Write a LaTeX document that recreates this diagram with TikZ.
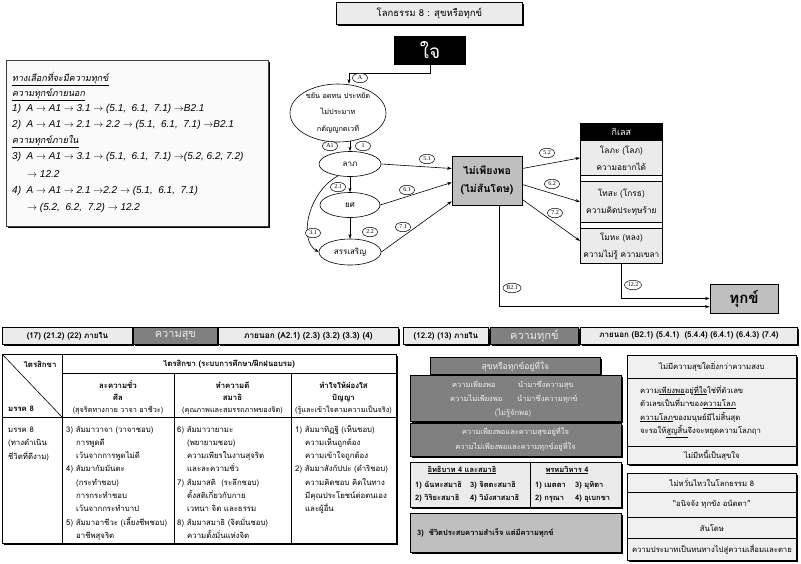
\documentclass[tikz,border=0pt]{standalone}
\usepackage{fontspec}
\setmainfont{Loma}[Script=Thai]
\newfontfamily\thaisl{Loma}[Script=Thai,FakeSlant=0.18]
\newfontfamily\latsans{Liberation Sans}
\newfontfamily\lserif{Liberation Serif}
\usetikzlibrary{shapes.geometric,arrows.meta,calc,shadows}
\newcommand\fsz[2]{\fontsize{#1}{#2}\selectfont}
\newcommand\rarr{$\rightarrow$}
\newcommand\lit[1]{{\latsans\itshape\fsz{10}{11}#1}}
\begin{document}
\begin{tikzpicture}[x=1pt,y=-1pt,
  arr/.style={-{Stealth[length=4.5pt,width=3.2pt]}, line width=0.6pt},
  lbl/.style={ellipse, draw, line width=0.5pt, fill=white, inner sep=0.4pt, minimum width=15pt, minimum height=9.5pt, font=\lserif\fsz{6}{6}},
  oval/.style={ellipse, draw, line width=0.6pt, inner sep=0pt, fill=white},
  bx/.style={draw, line width=0.8pt, inner sep=0pt, anchor=north west},
  shd/.style={drop shadow={shadow xshift=1.2pt, shadow yshift=-1.2pt, opacity=1, fill=black}},
  tl/.style={inner sep=0pt, anchor=west, text height=5.5pt, text depth=1.5pt},
  tc/.style={inner sep=0pt, anchor=center, text height=5.5pt, text depth=1.5pt},
  tbody/.style={font=\fsz{7.8}{9}},
  tsmall/.style={font=\fsz{7.3}{9}},
  tbold/.style={font=\bfseries\fsz{7.8}{9}},
  rcol/.style={font=\fsz{7.7}{9}},
]
\useasboundingbox (0,0) rectangle (801,563);

% ---------- top diagram ----------
\node[bx, shd, fill=black!8, minimum width=186pt, minimum height=22pt, font=\fsz{9.5}{11}] (title) at (336,2) {โลกธรรม 8 : สุขหรือทุกข์};
\node[fill=black, text=white, minimum width=72pt, minimum height=29pt, inner sep=0pt, font=\fsz{19}{20}] (jai) at (430,50.5) {ใจ};

\node[oval, minimum width=96pt, minimum height=58pt] (virtue) at (338,113) {};
\node[align=center, inner sep=0pt, font=\fsz{7.3}{16.5}] (virtuet) at (virtue.center) {ขยัน อดทน ประหยัด\\ไม่ประมาท\\กตัญญูกตเวที};
\coordinate (c1) at (349,73);
\draw[arr] (jai.south) |- (c1) -- (virtue.north -| c1);
\node[lbl] (lA) at (360,78) {A};

\node[oval, minimum width=62pt, minimum height=25pt] (lap) at (350,164) {};
\node[inner sep=0pt, font=\fsz{8}{9}] (lapt) at (lap.center) {ลาภ};
\node[oval, minimum width=60pt, minimum height=25pt] (yot) at (350,205) {};
\node[inner sep=0pt, font=\fsz{8}{9}] (yott) at (yot.center) {ยศ};
\node[oval, minimum width=62pt, minimum height=26pt] (sun) at (350,252) {};
\node[inner sep=0pt, font=\fsz{8}{9}] (sunt) at (sun.center) {สรรเสริญ};

\draw[arr] ($(virtue.south -| lap.north)+(0,-1)$) -- (lap.north);
\draw[arr] (lap.south) -- (yot.north);
\draw[arr] (yot.south) -- (sun.north);
\draw[arr] (lap.225) .. controls (308,192) and (298,240) .. (sun.west);
\node[lbl] (lA1) at (330,146) {A1};
\node[lbl] (l1) at (363,146) {1};
\node[lbl] (l21) at (338,187) {2.1};
\node[lbl] (l31) at (313,233) {3.1};
\node[lbl] (l22) at (370,232) {2.2};

\node[draw, line width=0.7pt, fill=black!25, minimum width=70pt, minimum height=49pt, inner sep=0pt, align=center, font=\bfseries\fsz{10.5}{18}] (nopo) at (487,180.5) {ไม่เพียงพอ\\(ไม่สันโดษ)};
\draw[arr] (lap.east) -- ($(nopo.west)+(0,-12)$);
\draw[arr] (yot.east) -- ($(nopo.west)+(0,2)$);
\draw[arr] (sun.east) -- ($(nopo.south west)+(0,-4)$);
\node[lbl] (l51) at (427,159) {5.1};
\node[lbl] (l61) at (407,190) {6.1};
\node[lbl] (l71) at (403,227) {7.1};

\draw[line width=0.5pt] (580,123) rectangle (662,263);
\node[bx, fill=black, minimum width=82pt, minimum height=17pt, text=white, font=\fsz{9}{10}] (kil) at (580,123) {กิเลส};
\node[bx, fill=black!8, minimum width=82pt, minimum height=35pt, align=center, font=\fsz{8.3}{17}] (lop) at (580,140) {โลภะ (โลภ)\\ความอยากได้};
\node[bx, fill=black!8, minimum width=82pt, minimum height=41pt, align=center, font=\fsz{8.3}{17}] (tho) at (580,181) {โทสะ (โกรธ)\\ความคิดประทุษร้าย};
\node[bx, fill=black!8, minimum width=82pt, minimum height=35pt, align=center, font=\fsz{8.3}{17}] (moh) at (580,228) {โมหะ (หลง)\\ความไม่รู้ ความเขลา};

\draw[arr] ($(nopo.east)+(0,-12)$) -- (lop.west);
\draw[arr] ($(nopo.east)+(0,4)$) -- (tho.west);
\draw[arr] ($(nopo.east)+(0,19)$) -- ($(moh.west)+(0,-5)$);
\node[lbl] (l52) at (547,153) {5.2};
\node[lbl] (l62) at (552,184) {6.2};
\node[lbl] (l72) at (555,213) {7.2};

\node[draw, line width=0.8pt, fill=black!25, minimum width=68pt, minimum height=29pt, inner sep=0pt, font=\bfseries\fsz{15}{16}] (duk) at (744,298.5) {ทุกข์};
\draw[arr] ($(nopo.south)+(12,0)$) |- ($(duk.west)+(0,8.2)$);
\draw[arr] (moh.south) |- (duk.west);
\node[lbl, minimum width=18pt] (lB21) at (512,288) {B2.1};
\node[lbl, minimum width=17pt] (l122) at (633,285) {12.2};

% ---------- left option box ----------
\node[bx, shd, draw=black!75, fill=black!2, minimum width=262pt, minimum height=166pt] (opt) at (6,60) {};
\begin{scope}[every node/.style={tl, font=\fsz{9}{10}}]
\node (o1) at (12,79) {\thaisl\underline{ทางเลือกที่จะมีความทุกข์}};
\node (o2) at (12,94.3) {\thaisl\underline{ความทุกข์ภายนอก}};
\node (o3) at (12,109) {\lit{1)\ \ A \rarr\ A1 \rarr\ 3.1 \rarr\ (5.1,\ \ 6.1,\ \ 7.1) \rarr B2.1}};
\node (o4) at (12,125) {\lit{2)\ \ A \rarr\ A1 \rarr\ 2.1 \rarr\ 2.2 \rarr\ (5.1,\ \ 6.1,\ \ 7.1) \rarr B2.1}};
\node (o5) at (12,141.7) {\thaisl\underline{ความทุกข์ภายใน}};
\node (o6) at (12,157.7) {\lit{3)\ \ A \rarr\ A1 \rarr\ 3.1 \rarr\ (5.1,\ \ 6.1,\ \ 7.1) \rarr(5.2, 6.2, 7.2)}};
\node (o7) at (27,175.7) {\lit{\rarr\ 12.2}};
\node (o8) at (12,191) {\lit{4)\ \ A \rarr\ A1 \rarr\ 2.1 \rarr2.2 \rarr\ (5.1,\ \ 6.1,\ \ 7.1)}};
\node (o9) at (27,208.3) {\lit{\rarr\ (5.2,\ \ 6.2,\ \ 7.2) \rarr\ 12.2}};
\end{scope}

% ---------- header bars ----------
\node[bx, shd, fill=black!8, minimum width=130pt, minimum height=17pt, font=\bfseries\fsz{8}{9}] (hl1) at (2,327) {(17) (21.2) (22) ภายใน};
\node[bx, shd, fill=black!50, text=black!8, minimum width=84pt, minimum height=17pt, font=\fsz{11}{12}] (hl2) at (133,327) {ความสุข};
\node[bx, shd, fill=black!8, minimum width=180pt, minimum height=17pt, font=\bfseries\fsz{8.3}{9}] (hl3) at (218,327) {ภายนอก (A2.1) (2.3) (3.2) (3.3) (4)};
\node[bx, shd, fill=black!8, minimum width=85pt, minimum height=17pt, font=\bfseries\fsz{8}{9}] (hr1) at (403,327) {(12.2) (13) ภายใน};
\node[bx, shd, fill=black!50, text=black!8, minimum width=88pt, minimum height=17pt, font=\fsz{11}{12}] (hr2) at (490,327) {ความทุกข์};
\node[bx, shd, fill=black!8, minimum width=217pt, minimum height=17pt, font=\bfseries\fsz{8}{9}] (hr3) at (580,327) {ภายนอก (B2.1) (5.4.1)\ \ (5.4.4) (6.4.1) (6.4.3) (7.4)};

% ---------- table ----------
\node[bx, shd, fill=white, minimum width=394pt, minimum height=189pt] (tab) at (2,354) {};
\draw[line width=0.6pt] (62,354) -- (62,543)
  (62,373) -- (396,373)
  (2,417) -- (396,417)
  (174,373) -- (174,543)
  (291,373) -- (291,543);
\draw[line width=0.6pt] (tab.north west) -- (62,417);
\node[tc, tbold] (tx1) at (40,365) {ไตรสิกขา};
\node[tl, tbold] (tx2) at (8,409) {มรรค 8};
\node[tc, tbold] (tx3) at (229,364) {ไตรสิกขา (ระบบการศึกษา/ฝึกฝนอบรม)};
\node[tc, tbold] (h21) at (118,386) {ละความชั่ว};
\node[tc, tbold] (h22) at (118,398) {ศีล};
\node[tc, tsmall] (h23) at (118,410) {(สุจริตทางกาย วาจา อาชีวะ)};
\node[tc, tbold] (h31) at (232.5,386) {ทำความดี};
\node[tc, tbold] (h32) at (232.5,398) {สมาธิ};
\node[tc, tsmall] (h33) at (232.5,410) {(คุณภาพและสมรรถภาพของจิต)};
\node[tc, tbold] (h41) at (343.5,386) {ทำใจให้ผ่องใส};
\node[tc, tbold] (h42) at (343.5,398) {ปัญญา};
\node[tc, tsmall] (h43) at (343.5,410) {(รู้และเข้าใจตามความเป็นจริง)};

\begin{scope}[every node/.style={tl, tbody}]
\node (m1) at (8,430) {มรรค 8};
\node (m2) at (8,443.5) {(ทางดำเนิน};
\node (m3) at (8,457) {ชีวิตที่ดีงาม)};
\node (a1) at (66,430) {3) สัมมาวาจา (วาจาชอบ)};
\node (a2) at (76,443.3) {การพูดดี};
\node (a3) at (76,456.6) {เว้นจากการพูดไม่ดี};
\node (a4) at (66,469.9) {4) สัมมากัมมันตะ};
\node (a5) at (76,483.2) {(กระทำชอบ)};
\node (a6) at (76,496.5) {การกระทำชอบ};
\node (a7) at (76,509.8) {เว้นจากกระทำบาป};
\node (a8) at (66,523.1) {5) สัมมาอาชีวะ (เลี้ยงชีพชอบ)};
\node (a9) at (76,536.4) {อาชีพสุจริต};
\node (b1) at (177,430) {6) สัมมาวายามะ};
\node (b2) at (187,443.3) {(พยายามชอบ)};
\node (b3) at (187,456.6) {ความเพียรในงานสุจริต};
\node (b4) at (187,469.9) {และละความชั่ว};
\node (b5) at (177,483.2) {7) สัมมาสติ\ \ (ระลึกชอบ)};
\node (b6) at (187,496.5) {ตั้งสติเกี่ยวกับกาย};
\node (b7) at (187,509.8) {เวทนา จิต และธรรม};
\node (b8) at (177,523.1) {8) สัมมาสมาธิ (จิตมั่นชอบ)};
\node (b9) at (187,536.4) {ความตั้งมั่นแห่งจิต};
\node (d1) at (295,430) {1) สัมมาทิฏฐิ (เห็นชอบ)};
\node (d2) at (305,443.3) {ความเห็นถูกต้อง};
\node (d3) at (305,456.6) {ความเข้าใจถูกต้อง};
\node (d4) at (295,469.9) {2) สัมมาสังกัปปะ (ดำริชอบ)};
\node (d5) at (305,483.2) {ความคิดชอบ คิดในทาง};
\node (d6) at (305,496.5) {มีคุณประโยชน์ต่อตนเอง};
\node (d7) at (305,509.8) {และผู้อื่น};
\end{scope}

% ---------- right middle ----------
\node[bx, shd, fill=black!50, text=black!5, minimum width=170pt, minimum height=17pt, font=\fsz{8.5}{9}] (sukh) at (430,357) {สุขหรือทุกข์อยู่ที่ใจ};
\node[bx, shd, fill=black!50, minimum width=211pt, minimum height=46pt] (bb2) at (410,375) {};
\node[bx, shd, fill=black!50, minimum width=211pt, minimum height=33pt] (bb3) at (410,423) {};
\begin{scope}[every node/.style={tl, text=black!5, font=\fsz{7.5}{9}}]
\node (e1) at (452,385) {ความเพียงพอ};
\node (e2) at (518,385) {นำมาซึ่งความสุข};
\node (e3) at (450,399) {ความไม่เพียงพอ};
\node (e4) at (517,399) {นำมาซึ่งความทุกข์};
\node[tc] (e5) at (513,413) {(ไม่รู้จักพอ)};
\node[tc] (e6) at (515.5,432) {ความเพียงพอและความสุขอยู่ที่ใจ};
\node[tc] (e7) at (515.5,447) {ความไม่เพียงพอและความทุกข์อยู่ที่ใจ};
\end{scope}

\node[bx, shd, fill=black!8, minimum width=120pt, minimum height=45pt] (itt) at (410,462) {};
\node[bx, shd, fill=black!8, minimum width=91pt, minimum height=45pt] (prom) at (530,462) {};
\begin{scope}[every node/.style={tl, font=\bfseries\fsz{7.5}{9}}]
\node[tc] (i0) at (462,470) {\underline{อิทธิบาท 4 และสมาธิ}};
\node (i1) at (415,485) {1) ฉันทะสมาธิ};
\node (i2) at (470,485) {3) จิตตะสมาธิ};
\node (i3) at (415,498) {2) วิริยะสมาธิ};
\node (i4) at (470,498) {4) วิมังสาสมาธิ};
\node[tc] (p0) at (567,470) {\underline{พรหมวิหาร 4}};
\node (p1) at (535,485) {1) เมตตา};
\node (p2) at (575,485) {3) มุทิตา};
\node (p3) at (535,498) {2) กรุณา};
\node (p4) at (575,498) {4) อุเบกขา};
\end{scope}
\node[bx, shd, fill=black!25, minimum width=211pt, minimum height=39pt] (suc) at (410,513) {};
\node[tl, font=\bfseries\fsz{7.5}{9}] (suct) at (417,533) {3)\ \ ชีวิตประสบความสำเร็จ แต่มีความทุกข์};

% ---------- right column ----------
\begin{scope}[every node/.append style={rcol}]
\node[bx, shd, fill=black!6, minimum width=169pt, minimum height=23pt] (r1) at (627,355) {ไม่มีความสุขใดยิ่งกว่าความสงบ};
\node[bx, shd, fill=black!6, minimum width=169pt, minimum height=68pt] (r2) at (627,378) {};
\node[bx, shd, fill=black!6, minimum width=169pt, minimum height=18pt] (r3) at (627,446) {ไม่มีหนี้เป็นสุขใจ};
\node[bx, shd, fill=black!6, minimum width=169pt, minimum height=19pt] (r4) at (627,473) {ไม่หวั่นไหวในโลกธรรม 8};
\node[bx, shd, fill=black!6, minimum width=169pt, minimum height=25pt] (r5) at (627,492) {“อนิจจัง ทุกขัง อนัตตา”};
\node[bx, shd, fill=black!6, minimum width=169pt, minimum height=21pt] (r6) at (627,517) {สันโดษ};
\node[bx, shd, fill=black!6, minimum width=169pt, minimum height=22pt] (r7) at (627,538) {ความประมาทเป็นหนทางไปสู่ความเสื่อมและตาย};
\node[tl] (g1) at (640,391) {ความ\underline{เพียงพอ}อยู่\underline{ที่ใจ}ใช่ที่ตัวเลข};
\node[tl] (g2) at (640,404.5) {ตัวเลขเป็นที่มาของ\underline{ความโลภ}};
\node[tl] (g3) at (640,418) {\underline{ความโลภ}ของมนุษย์มีไม่สิ้นสุด};
\node[tl] (g4) at (640,431.5) {จะรอให้\underline{สูญสิ้น}จึงจะหยุดความโลภฤา};
\end{scope}
\end{tikzpicture}
\end{document}
